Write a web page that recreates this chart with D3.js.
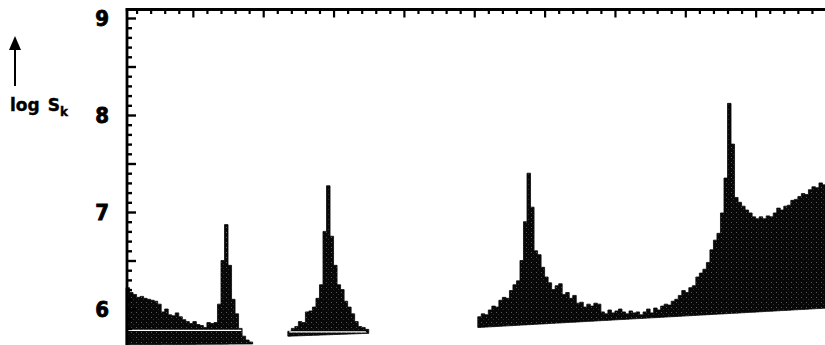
<!DOCTYPE html>
<html>
<head>
<meta charset="utf-8">
<script src="https://cdn.jsdelivr.net/npm/d3@7"></script>
<style>
  html, body { margin: 0; padding: 0; background: #fff; }
  svg { display: block; }
</style>
</head>
<body>
<svg id="chart" width="825" height="345"></svg>
<script>
// sample spacing along the horizontal axis (k units)
const step = 0.25

// low-k block
const seg1Start = 0.25
const seg1 = [6.22, 6.17, 6.15, 6.12, 6.13, 6.11, 6.10, 6.09, 6.08, 6.05,
  5.97, 6.00, 5.94, 5.93, 5.96, 5.92, 5.89, 5.87, 5.85, 5.87,
  5.84, 5.83, 5.81, 5.86, 5.85, 5.86, 6.05, 6.50, 6.87, 6.45,
  6.10, 5.95, 5.80, 5.72, 5.68, 5.66]
const seg1Base = [5.63, 5.64]

// middle block
const seg3Start = 11.75
const seg3 = [5.77, 5.80, 5.82, 5.87, 5.86, 5.97, 5.98, 6.02, 6.11, 6.25,
  6.80, 7.27, 6.75, 6.45, 6.25, 6.20, 6.08, 6.02, 5.95, 5.87,
  5.82, 5.81, 5.79]
const seg3Base = [5.72, 5.75]

// high-k block
const seg4Start = 25.25
const seg4 = [5.92, 5.95, 5.94, 5.99, 6.03, 6.02, 6.09, 6.12, 6.11, 6.19,
  6.25, 6.29, 6.50, 6.90, 7.40, 7.05, 6.60, 6.56, 6.43, 6.33,
  6.27, 6.20, 6.24, 6.26, 6.15, 6.17, 6.11, 6.14, 6.06, 6.07,
  6.02, 6.05, 6.03, 6.06, 6.05, 5.97, 5.95, 5.99, 5.96, 5.98,
  6.00, 5.97, 5.95, 5.98, 5.96, 5.97, 5.94, 5.97, 6.00, 5.96,
  6.01, 5.99, 6.03, 6.05, 6.04, 6.08, 6.10, 6.14, 6.19, 6.17,
  6.22, 6.24, 6.33, 6.37, 6.41, 6.48, 6.61, 6.71, 6.78, 6.99,
  7.35, 8.12, 7.70, 7.15, 7.10, 7.06, 7.02, 6.99, 6.95, 6.93,
  6.95, 6.93, 6.96, 6.95, 6.99, 7.04, 7.02, 7.06, 7.07, 7.12,
  7.13, 7.16, 7.19, 7.18, 7.23, 7.26, 7.25, 7.30, 7.28]
const seg4Base = [5.81, 6.01]

const yLabels = [6, 7, 8, 9]
const yLabelText = "log S"
const ySub = "k"

const svg = d3.select("#chart")

const x = d3.scaleLinear().domain([0, 50]).range([122.5, 826])
const y = d3.scaleLinear().domain([6, 9]).range([309, 18])

const axisX = 127
const axisY = 9.5

// speckled fill like the printed halftone
const defs = svg.append("defs")
const pat = defs.append("pattern")
  .attr("id", "speck")
  .attr("width", 5).attr("height", 5)
  .attr("patternUnits", "userSpaceOnUse")
pat.append("rect").attr("width", 5).attr("height", 5).attr("fill", "#080808")
pat.append("rect").attr("x", 1).attr("y", 2).attr("width", 1).attr("height", 1).attr("fill", "#5a5a5a")
pat.append("rect").attr("x", 3).attr("y", 4).attr("width", 1).attr("height", 1).attr("fill", "#303030")

function toPoints(start, vals, base) {
  const n = vals.length
  const end = start + n * step
  const pts = vals.map((v, i) => ({ k: start + i * step, v }))
  pts.push({ k: end, v: vals[n - 1] })
  // straight sloping floor under each block
  const b = d3.scaleLinear().domain([start, end]).range(base)
  pts.forEach(p => { p.b = b(p.k) })
  return pts
}

const area = d3.area()
  .x(d => x(d.k))
  .y0(d => y(d.b))
  .y1(d => y(d.v))
  .curve(d3.curveStepAfter)

const blocks = [
  toPoints(seg1Start, seg1, seg1Base),
  toPoints(seg3Start, seg3, seg3Base),
  toPoints(seg4Start, seg4, seg4Base)
]

svg.append("g")
  .selectAll("path")
  .data(blocks)
  .join("path")
  .attr("d", area)
  .attr("fill", "url(#speck)")
  .attr("stroke", "#080808")
  .attr("stroke-width", 0.8)

// thin white scan lines crossing the first two blocks
const whiteLines = [
  { k0: seg1Start, k1: seg1Start + 34 * step - 0.3, v: 5.78 },
  { k0: seg3Start + 0.1, k1: seg3Start + seg3.length * step - 0.2, v: 5.765 }
]
svg.append("g")
  .selectAll("line")
  .data(whiteLines)
  .join("line")
  .attr("x1", d => Math.max(x(d.k0), axisX + 1))
  .attr("x2", d => x(d.k1))
  .attr("y1", d => y(d.v))
  .attr("y2", d => y(d.v))
  .attr("stroke", "#fff")
  .attr("stroke-width", 1.3)

// left axis ticks (every 0.1, longer every 0.5)
const yTickVals = d3.range(56, 91).map(d => d / 10)
const yTicks = svg.append("g")
  .attr("transform", `translate(${axisX},0)`)
  .call(d3.axisRight(y).tickValues(yTickVals).tickFormat("").tickSize(5))
yTicks.select(".domain").remove()
yTicks.selectAll(".tick line")
  .attr("x2", d => (Math.round(d * 10) % 5 === 0 ? 9 : 5))
  .attr("stroke", "#000")
  .attr("stroke-width", 2.4)

// top axis ticks (every unit, longer every 5)
const xTickVals = d3.range(1, 51)
const xTicks = svg.append("g")
  .attr("transform", `translate(0,${axisY})`)
  .call(d3.axisBottom(x).tickValues(xTickVals).tickFormat("").tickSize(5))
xTicks.select(".domain").remove()
xTicks.selectAll(".tick line")
  .attr("y2", d => (d % 5 === 0 ? 8 : 4.5))
  .attr("stroke", "#000")
  .attr("stroke-width", 2.2)

// frame lines
svg.append("line")
  .attr("x1", axisX).attr("x2", axisX)
  .attr("y1", axisY - 1.3).attr("y2", 345)
  .attr("stroke", "#000").attr("stroke-width", 2.8)
svg.append("line")
  .attr("x1", axisX - 1.3).attr("x2", 826)
  .attr("y1", axisY).attr("y2", axisY)
  .attr("stroke", "#000").attr("stroke-width", 2.8)

// tick labels
const yAxis = svg.append("g")
  .attr("transform", `translate(${axisX},0)`)
  .call(d3.axisLeft(y).tickValues(yLabels).tickSize(0).tickPadding(18).tickFormat(d3.format("d")))
yAxis.select(".domain").remove()
yAxis.selectAll("text")
  .attr("font-family", "'Liberation Sans Narrow', 'DejaVu Sans Condensed', sans-serif")
  .attr("font-weight", "bold")
  .attr("font-size", 22)
  .attr("fill", "#000")
  .attr("stroke", "#000")
  .attr("stroke-width", 0.8)

// axis title with arrow
svg.append("line")
  .attr("x1", 15).attr("x2", 15)
  .attr("y1", 46).attr("y2", 86)
  .attr("stroke", "#000").attr("stroke-width", 2)
svg.append("path")
  .attr("d", "M15,36 L9,50 L21,50 Z")
  .attr("fill", "#000")

const title = svg.append("text")
  .attr("x", 10).attr("y", 111)
  .attr("font-family", "'DejaVu Sans', sans-serif")
  .attr("font-weight", "bold")
  .attr("font-size", 17)
  .attr("fill", "#000")
  .attr("stroke", "#000")
  .attr("stroke-width", 0.4)
title.append("tspan").text(yLabelText.split(" ")[0])
title.append("tspan").attr("dx", 8).text(yLabelText.split(" ")[1])
title.append("tspan").attr("dy", 5).attr("font-size", 12).text(ySub)
</script>
</body>
</html>
